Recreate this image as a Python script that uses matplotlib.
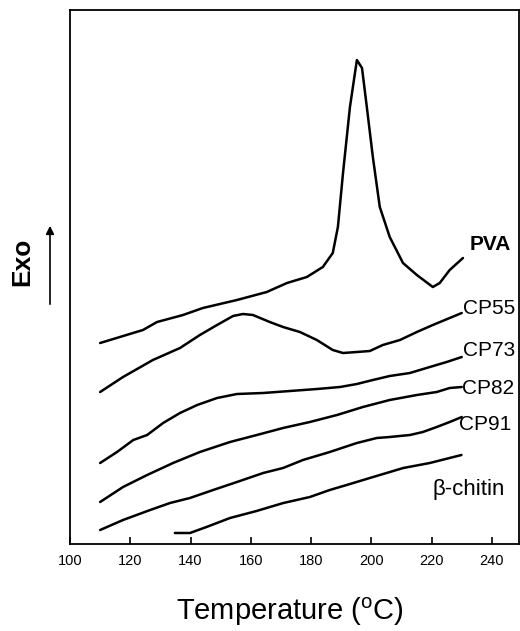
import numpy as np
import matplotlib
matplotlib.use('Agg')
import matplotlib.pyplot as plt

plt.rcParams['font.family'] = ['Liberation Sans', 'DejaVu Sans']
plt.rcParams['mathtext.fontset'] = 'custom'
plt.rcParams['mathtext.rm'] = 'Liberation Sans'

# DSC traces (arbitrary heat-flow units, offset)
pva_t = [110, 124.2, 128.9, 137.5, 144.1, 155.4, 165.3, 172, 178.6, 183.9, 187.2, 188.9,
         190.6, 192.9, 195.2, 196.9, 198.5, 200.5, 202.8, 206.1, 210.5, 215.1, 220.4,
         222.7, 226, 230.4]
pva_y = [201, 214, 222, 229, 236, 244, 252, 261, 267, 277, 291, 317,
         371, 437, 484, 476, 437, 387, 337, 307, 281, 269, 257,
         261, 274, 286]

cp55_t = [110, 117.6, 127.5, 136.5, 143.1, 148.8, 154.1, 157.4, 160.7, 166.3, 170.7, 176.3,
          181.9, 187.2, 190.6, 195.2, 199.5, 203.8, 209.5, 215.1, 220.4, 226, 230]
cp55_y = [152, 167, 184, 196, 209, 219, 228, 230, 229, 222, 217, 212,
          204, 194, 191, 192, 193, 199, 204, 212, 219, 226, 231]

cp73_t = [110, 115.6, 121, 125.6, 130.9, 136.5, 142.2, 148.8, 155.4, 164.1, 173, 182,
          189.6, 195.2, 200.5, 206.1, 212.8, 219.4, 225, 230]
cp73_y = [81, 92, 104, 109, 121, 131, 139, 146, 150, 151, 153, 155,
          157, 160, 164, 168, 171, 177, 182, 187]

cp82_t = [110, 117.6, 125.6, 134.2, 143.1, 153.1, 162, 170.7, 179.6, 188.6, 197.2, 206.1,
          215.1, 221.7, 226, 230]
cp82_y = [42, 57, 69, 81, 92, 102, 109, 116, 122, 129, 137, 144,
          149, 152, 156, 157]

cp91_t = [110, 117.6, 126.6, 133.2, 139.8, 147.5, 155.4, 164.1, 170.7, 177.3, 186.2, 195.2,
          201.8, 206.1, 212.8, 217.1, 221.7, 226, 230]
cp91_y = [14, 24, 34, 41, 46, 54, 62, 71, 76, 84, 92, 101,
          106, 107, 109, 112, 117, 122, 127]

chitin_t = [134.8, 139.8, 145.3, 153.1, 161.9, 170.8, 179.6, 186.2, 191.8, 200.6, 210.6, 219.4, 229.9]
chitin_y = [11, 11, 17, 26, 33, 41, 47, 54, 59, 67, 76, 81, 89]

names = ['PVA', 'CP55', 'CP73', 'CP82', 'CP91', 'β-chitin']
label_t = [232.7, 230.4, 230.4, 230, 229, 220.4]
label_y = [299, 236, 194, 155, 119, 54]

fig = plt.figure(figsize=(5.2, 6.31), dpi=100)
ax = fig.add_axes([70/520, 1-544/631, 449/520, 534/631])

for t, y in [(pva_t, pva_y), (cp55_t, cp55_y), (cp73_t, cp73_y),
             (cp82_t, cp82_y), (cp91_t, cp91_y), (chitin_t, chitin_y)]:
    ax.plot(t, y, color='black', lw=1.8, solid_joinstyle='round', solid_capstyle='round')

for i, name in enumerate(names):
    ax.text(label_t[i], label_y[i], name, ha='left', va='center',
            fontsize=16 if i == 5 else 15,
            fontweight='bold' if i == 0 else 'normal')

ax.set_xlim(100, 249)
ax.set_ylim(0, 534)
ax.set_xticks(np.arange(100, 241, 20))
ax.set_yticks([])
ax.tick_params(axis='x', direction='in', length=5, width=1.2, pad=7, labelsize=10.5)
for s in ax.spines.values():
    s.set_linewidth(1.3)

fig.text(290/520, 1-612/631, r'Temperature ($^{\mathrm{o}}$C)', ha='center', va='center', fontsize=21)
fig.text(22/520, 1-262/631, 'Exo', rotation=90, ha='center', va='center',
         fontsize=19, fontweight='bold')
ax.annotate('', xy=(50/520, 1-223/631), xytext=(50/520, 1-307/631),
            xycoords='figure fraction', textcoords='figure fraction',
            arrowprops=dict(arrowstyle='-|>', lw=1.2, color='black', mutation_scale=12))

fig.savefig('out.png', dpi=100)
